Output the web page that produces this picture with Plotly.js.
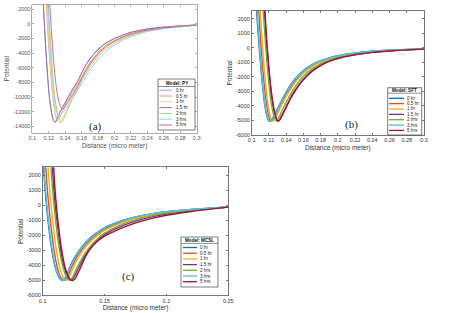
<!DOCTYPE html>
<html>
<head>
<meta charset="utf-8">
<script src="https://cdn.plot.ly/plotly-3.0.1.min.js"></script>
<style>html,body{margin:0;padding:0;background:#fff}#chart{width:450px;height:313px}</style>
</head>
<body>
<div id="chart"></div>
<script>
// ---------- data ----------
var seriesNames = ['0 hr','0.5 hr','1 hr','1.5 hr','2 hrs','3 hrs','5 hrs'];

// Panel (a): Model PY
var xA = [0.110,0.112,0.114,0.116,0.118,0.120,0.122,0.124,0.126,0.128,0.130,0.132,0.134,0.136,0.138,0.140,0.145,0.150,0.155,0.160,0.165,0.170,0.180,0.190,0.200,0.210,0.220,0.240,0.260,0.280,0.300];
var a0hr  = [11000,5500,1200,-2800,-6300,-9300,-11300,-12600,-13300,-13400,-12950,-12450,-11950,-11550,-11150,-10750,-9700,-8750,-7850,-6700,-5600,-4750,-3450,-2580,-1980,-1530,-1140,-690,-430,-270,-140];
var a05hr = [30000,20000,11000,5500,1000,-3000,-6300,-9000,-11000,-12300,-12900,-13000,-12600,-12100,-11600,-11150,-10100,-9150,-8250,-7250,-6200,-5300,-3900,-2900,-2250,-1750,-1330,-800,-500,-320,-160];
var a1hr  = [40000,28000,16000,8000,2000,-2200,-5600,-8400,-10600,-12100,-13000,-13400,-13500,-13200,-12700,-12200,-10900,-9700,-8600,-7500,-6500,-5600,-4200,-3150,-2450,-1900,-1480,-900,-560,-350,-170];
var a15hr = [12000,6000,1500,-2500,-6000,-9000,-11000,-12400,-13200,-13450,-13000,-12500,-12000,-11600,-11200,-10800,-9750,-8800,-7900,-6750,-5650,-4800,-3500,-2600,-2000,-1550,-1150,-700,-440,-280,-140];
var a2hr  = [50000,36000,22000,12000,5500,1500,-2200,-5600,-8400,-10500,-12000,-12900,-13300,-13400,-13000,-12500,-11200,-10000,-8900,-7800,-6800,-5900,-4500,-3400,-2650,-2050,-1600,-980,-610,-380,-180];
var a3hr  = [45000,32000,19000,10000,4000,200,-3500,-6800,-9300,-11100,-12100,-12500,-12450,-12250,-12000,-11700,-10900,-10000,-9100,-8150,-7200,-6300,-4900,-3750,-2900,-2250,-1750,-1050,-650,-400,-190];
var a5hr  = [60000,45000,30000,18000,10000,5000,1200,-2200,-5100,-7500,-9300,-10500,-11200,-11550,-11600,-11300,-10400,-9500,-8550,-7450,-6450,-5500,-4100,-3050,-2350,-1820,-1400,-850,-530,-330,-160];

// Panel (b): Model SFT
var xB = [0.104,0.106,0.108,0.110,0.112,0.114,0.116,0.118,0.120,0.122,0.124,0.126,0.128,0.130,0.132,0.135,0.140,0.145,0.150,0.160,0.170,0.180,0.190,0.200,0.220,0.240,0.260,0.280,0.300];
var b0hr  = [6000,2300,600,-900,-2300,-3400,-4250,-4800,-5050,-5000,-4850,-4650,-4420,-4200,-3950,-3600,-3050,-2550,-2150,-1550,-1150,-880,-680,-540,-350,-230,-160,-110,-70];
var b05hr = [12000,6000,2800,800,-800,-2200,-3300,-4150,-4750,-5030,-4980,-4800,-4580,-4350,-4100,-3750,-3200,-2700,-2280,-1650,-1220,-930,-720,-570,-370,-245,-170,-115,-72];
var b1hr  = [20000,11000,5500,2500,600,-1000,-2400,-3500,-4300,-4850,-5050,-4950,-4750,-4520,-4280,-3900,-3350,-2850,-2400,-1740,-1290,-980,-760,-600,-390,-255,-175,-118,-74];
var b15hr = [50000,32000,20000,12000,7000,3600,1400,-200,-1600,-2800,-3700,-4350,-4800,-5030,-4980,-4650,-4050,-3450,-2950,-2150,-1580,-1190,-910,-710,-460,-300,-200,-130,-80];
var b2hr  = [40000,25000,15000,8500,4500,2000,300,-1200,-2500,-3500,-4250,-4750,-5020,-4950,-4750,-4350,-3750,-3200,-2720,-1950,-1440,-1090,-840,-660,-430,-280,-190,-125,-78];
var b3hr  = [6800,2800,900,-650,-2100,-3250,-4150,-4750,-5050,-5020,-4880,-4690,-4470,-4250,-4000,-3650,-3100,-2600,-2200,-1580,-1170,-890,-690,-550,-355,-235,-160,-110,-70];
var b5hr  = [55000,36000,23000,14000,8200,4400,1900,100,-1350,-2600,-3550,-4250,-4750,-5030,-5000,-4700,-4100,-3500,-3000,-2200,-1620,-1220,-930,-725,-470,-305,-205,-132,-80];

// Panel (c): Model MCSL
var xC = [0.098,0.100,0.102,0.104,0.106,0.108,0.110,0.112,0.114,0.116,0.118,0.120,0.122,0.124,0.126,0.128,0.130,0.135,0.140,0.145,0.150,0.160,0.170,0.180,0.190,0.200,0.220,0.250];
var c0hr  = [8000,3500,1000,-800,-2200,-3300,-4100,-4600,-4900,-5000,-4850,-4500,-4100,-3750,-3450,-3180,-2950,-2450,-2050,-1750,-1500,-1150,-880,-690,-540,-430,-280,-110];
var c05hr = [15000,7500,3200,800,-900,-2300,-3400,-4200,-4700,-4950,-4980,-4750,-4380,-4000,-3680,-3390,-3130,-2600,-2180,-1860,-1590,-1220,-930,-725,-570,-450,-292,-113];
var c1hr  = [25000,14000,7000,3000,700,-1000,-2400,-3450,-4200,-4700,-4980,-4950,-4650,-4270,-3920,-3600,-3320,-2750,-2310,-1960,-1680,-1290,-980,-765,-600,-472,-305,-116];
var c15hr = [50000,32000,19000,11000,5500,2200,100,-1400,-2700,-3650,-4300,-4750,-4980,-4950,-4680,-4330,-3990,-3250,-2680,-2270,-1950,-1520,-1190,-940,-740,-585,-375,-126];
var c2hr  = [40000,25000,14000,7500,3500,1000,-700,-2100,-3200,-4000,-4550,-4880,-5000,-4800,-4450,-4100,-3780,-3100,-2570,-2180,-1860,-1420,-1090,-850,-665,-525,-340,-122];
var c3hr  = [8800,4000,1300,-550,-2000,-3150,-4000,-4550,-4880,-5000,-4880,-4560,-4170,-3810,-3500,-3220,-2990,-2480,-2080,-1770,-1520,-1160,-890,-695,-545,-435,-282,-110];
var c5hr  = [60000,40000,25000,15000,8500,4000,1000,-800,-2200,-3300,-4100,-4600,-4900,-5000,-4900,-4600,-4250,-3350,-2750,-2350,-2050,-1650,-1320,-1060,-840,-670,-420,-130];

// tick labels
var xTicksA = [0.1,0.12,0.14,0.16,0.18,0.2,0.22,0.24,0.26,0.28,0.3];
var xTextA  = ['0.1','0.12','0.14','0.16','0.18','0.2','0.22','0.24','0.26','0.28','0.3'];
var yTicksA = [2000,0,-2000,-4000,-6000,-8000,-10000,-12000,-14000];
var yTextA  = ['2000','0','-2000','-4000','-6000','-8000','-10000','-12000','-14000'];
var xTicksB = xTicksA, xTextB = xTextA;
var yTicksB = [2000,1000,0,-1000,-2000,-3000,-4000,-5000,-6000];
var yTextB  = ['2000','1000','0','-1000','-2000','-3000','-4000','-5000','-6000'];
var xTicksC = [0.1,0.15,0.2,0.25];
var xTextC  = ['0.1','0.15','0.2','0.25'];
var yTicksC = yTicksB, yTextC = yTextB;

var legendTitles = ['Model: PY','Model: SFT','Model: MCSL'];
var panelLabels = ['(a)','(b)','(c)'];

// ---------- styles ----------
var colorsMatlab = ['#0072BD','#D95319','#EDB120','#7E2F8E','#77AC30','#4DBEEE','#A2142F'];
var colorsFaded  = ['#7fb3dc','#ec9c7e','#f3d27c','#9c6cae','#a8d27e','#88d4f0','#d8667f'];
var W = 450, H = 313;
function px(x){return x/W;}
function py(y){return 1 - y/H;}

var traces = [];
function addPanel(x, ys, xa, ya, cols, lw){
  ys.forEach(function(y,i){
    traces.push({x:x, y:y, type:'scatter', mode:'lines', xaxis:xa, yaxis:ya,
      name:seriesNames[i], showlegend:false, hoverinfo:'skip',
      line:{color:cols[i], width:lw, shape:'spline', smoothing:0.6}});
  });
}
addPanel(xA,[a0hr,a05hr,a1hr,a15hr,a2hr,a3hr,a5hr],'x','y',colorsFaded,1.0);
addPanel(xB,[b0hr,b05hr,b1hr,b15hr,b2hr,b3hr,b5hr],'x2','y2',colorsMatlab,1.4);
addPanel(xC,[c0hr,c05hr,c1hr,c15hr,c2hr,c3hr,c5hr],'x3','y3',colorsMatlab,1.4);

var FONT = 'Liberation Sans, Arial, sans-serif';
function axis(dom, range, tv, tt, lineCol, txtCol, anchor, title, standoff){
  return {domain:dom, range:range, anchor:anchor, tickmode:'array', tickvals:tv, ticktext:tt,
    ticks:'inside', ticklen:2, tickcolor:lineCol, tickwidth:0.8, showline:true, linecolor:lineCol, linewidth:0.8,
    mirror:'ticks', showgrid:false, zeroline:false, fixedrange:true, automargin:false,
    tickfont:{size:5.5, color:txtCol, family:FONT},
    title:{text:title, font:{size:6.5, color:txtCol, family:FONT}, standoff:standoff}};
}

var layout = {
  width:W, height:H, margin:{l:0,r:0,t:0,b:0}, paper_bgcolor:'#fff', plot_bgcolor:'#fff', showlegend:false,
  xaxis:  axis([px(32.3),px(196.7)],[0.1,0.3],xTicksA,xTextA,'#999','#555','y','Distance (micro meter)',2),
  yaxis:  axis([py(133),py(4.5)],[-14900,2650],yTicksA,yTextA,'#999','#555','x','Potential',2),
  xaxis2: axis([px(251.7),px(424)],[0.1,0.3],xTicksB,xTextB,'#555','#333','y2','Distance (micro meter)',2),
  yaxis2: axis([py(135),py(10.7)],[-6000,2570],yTicksB,yTextB,'#555','#333','x2','Potential',2),
  xaxis3: axis([px(42.7),px(228.3)],[0.1,0.25],xTicksC,xTextC,'#555','#333','y3','Distance (micro meter)',2),
  yaxis3: axis([py(295.5),py(167.3)],[-6000,2520],yTicksC,yTextC,'#555','#333','x3','Potential',2),
  shapes:[], annotations:[]
};

function addLegend(box, title, cols, sample, textX, titleY, sepY, rowY0, rowStep, lw){
  layout.shapes.push({type:'rect', xref:'paper', yref:'paper', x0:px(box[0]), x1:px(box[2]), y0:py(box[3]), y1:py(box[1]),
    line:{color:'#444', width:0.7}, fillcolor:'#fff', layer:'above'});
  layout.shapes.push({type:'line', xref:'paper', yref:'paper', x0:px(box[0]), x1:px(box[2]), y0:py(sepY), y1:py(sepY),
    line:{color:'#444', width:0.6}, layer:'above'});
  layout.annotations.push({xref:'paper', yref:'paper', x:px((box[0]+box[2])/2), y:py(titleY), text:'<b>'+title+'</b>',
    showarrow:false, xanchor:'center', yanchor:'middle', font:{size:4.6, color:'#111', family:FONT}});
  seriesNames.forEach(function(n,i){
    var yy = rowY0 + i*rowStep;
    layout.shapes.push({type:'line', xref:'paper', yref:'paper', x0:px(sample[0]), x1:px(sample[1]), y0:py(yy), y1:py(yy),
      line:{color:cols[i], width:lw}, layer:'above'});
    layout.annotations.push({xref:'paper', yref:'paper', x:px(textX), y:py(yy), text:n, showarrow:false,
      xanchor:'left', yanchor:'middle', font:{size:4.6, color:'#222', family:FONT}});
  });
}
addLegend([158,79,195,130], legendTitles[0], colorsFaded, [159.5,172], 173.5, 83.3, 86.5, 90.2, 5.8, 1.0);
addLegend([387.7,87.7,421.7,135], legendTitles[1], colorsMatlab, [389,404], 405.3, 90.6, 93.2, 98.3, 5.35, 1.3);
addLegend([181,237,218,287], legendTitles[2], colorsMatlab, [183,197], 198.3, 240.4, 243.4, 247.5, 5.7, 1.3);

var labPos = [[95,126],[351,125],[128,276]];
panelLabels.forEach(function(t,i){
  layout.annotations.push({xref:'paper', yref:'paper', x:px(labPos[i][0]), y:py(labPos[i][1]), text:t, showarrow:false,
    xanchor:'center', yanchor:'middle', font:{size:11, color:'#222', family:'Liberation Serif, DejaVu Serif, serif'}});
});

Plotly.newPlot('chart', traces, layout, {staticPlot:true, displayModeBar:false});
</script>
</body>
</html>
